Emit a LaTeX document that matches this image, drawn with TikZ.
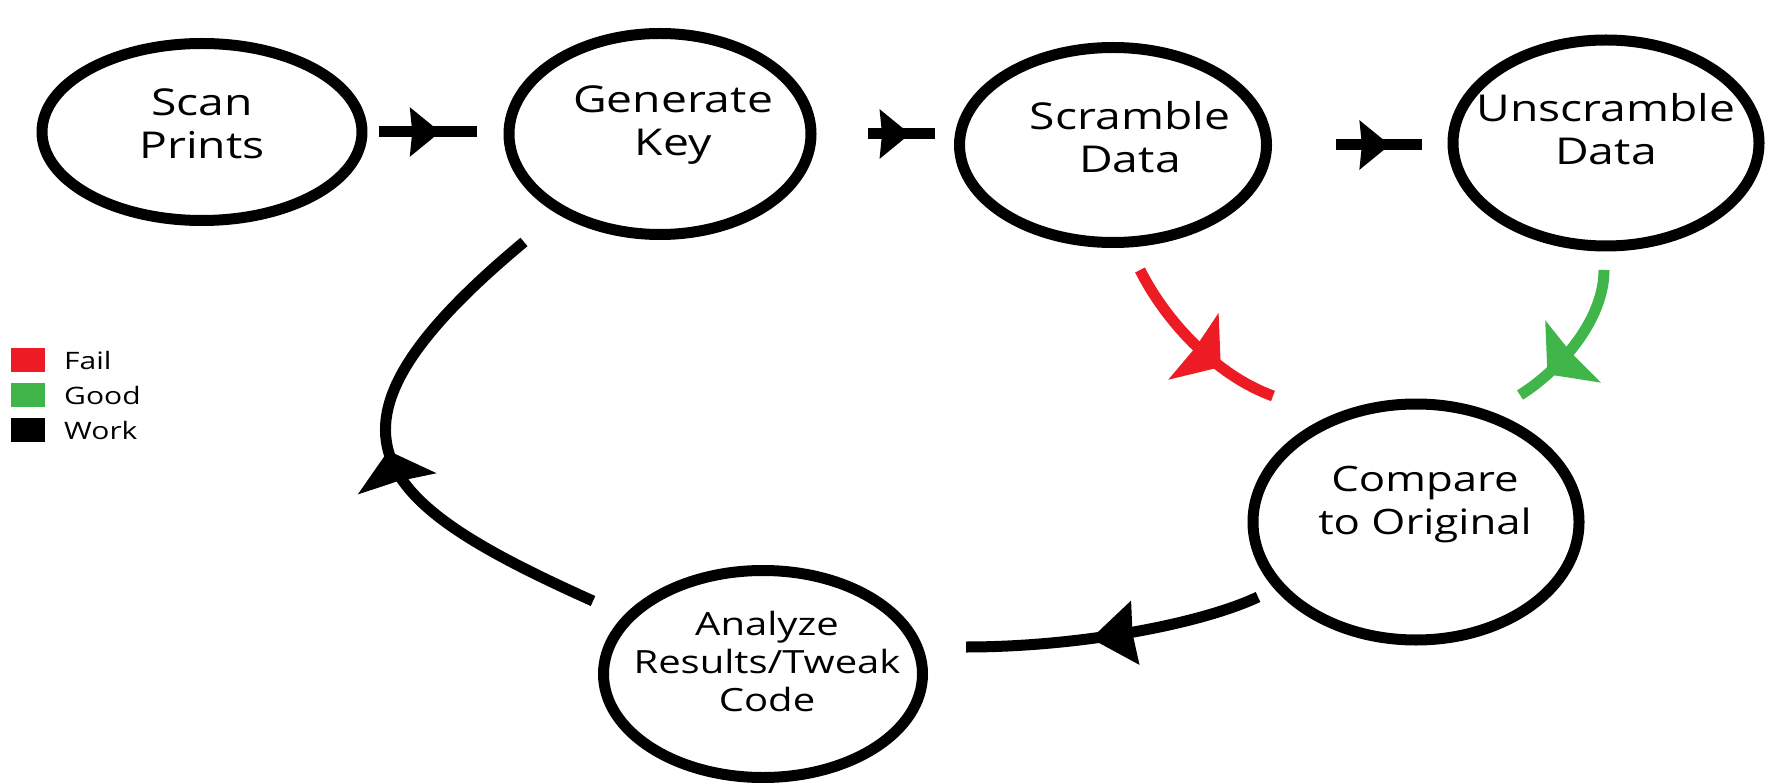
\documentclass[tikz,border=0pt]{standalone}
\usepackage{fontspec}
\setmainfont{Open Sans}[FakeStretch=1.25]
\usetikzlibrary{shapes.geometric,arrows.meta,decorations.markings,calc}

\definecolor{failred}{HTML}{ED1C24}
\definecolor{goodgreen}{HTML}{3FB54A}

\tikzset{
  stepnode/.style 2 args={ellipse, draw, line width=11pt, minimum width=#1, minimum height=#2, inner sep=0pt},
  steptext/.style={align=center, inner sep=0pt, font=\fontsize{37}{43}\selectfont},
  flow/.style n args={4}{line width=11pt, draw=#1, postaction={decorate},
    decoration={markings, mark=at position #2 with {\arrow[#1]{Stealth[length=#3, width=#4, inset=2pt]}}}},
  legendbox/.style={minimum width=34pt, minimum height=24pt, inner sep=0pt},
  legendtext/.style={anchor=west, inner sep=0pt, font=\fontsize{24}{28}\selectfont},
}

\begin{document}
\begin{tikzpicture}[x=1pt, y=1pt, line join=round]
\useasboundingbox (0,0) rectangle (1787,-783);

% steps
\node[stepnode={320pt}{177pt}] (scan) at (202,-132) {};
\node[stepnode={302pt}{201pt}] (genkey) at (660,-134) {};
\node[stepnode={307pt}{195pt}] (scramble) at (1113,-145) {};
\node[stepnode={306pt}{206pt}] (unscramble) at (1606,-143) {};
\node[stepnode={326pt}{236pt}] (compare) at (1416,-522) {};
\node[stepnode={319pt}{207pt}] (analyze) at (763,-674) {};

\node[steptext] (scan-t) at ($(scan)+(0,8)$) {Scan\\Prints};
\node[steptext] (genkey-t) at ($(genkey)+(13,9)$) {Generate\\Key};
\node[steptext] (scramble-t) at ($(scramble)+(17,8)$) {Scramble\\Data};
\node[steptext] (unscramble-t) at ($(unscramble)+(0,14)$) {Unscramble\\Data};
\node[steptext, font=\fontsize{35}{43}\selectfont] (compare-t) at ($(compare)+(9,17)$) {Compare\\to Original};
\node[steptext, font=\fontsize{32}{38}\selectfont] (analyze-t) at ($(analyze)+(4,13)$) {Analyze\\Results/Tweak\\Code};

% work flow along the top
\draw[flow={black}{0.63}{30pt}{48pt}] ([xshift=11pt]scan.east) -- ([xshift=-27pt]scan.east -| genkey.west);
\draw[flow={black}{0.63}{30pt}{48pt}] ([xshift=51pt]genkey.east) -- ([xshift=-19pt]genkey.east -| scramble.west);
\draw[flow={black}{0.63}{30pt}{48pt}] ([xshift=64pt]scramble.east) -- ([xshift=-26pt]scramble.east -| unscramble.west);

\path
(1140,-270) coordinate (fail-a)
(1273,-396) coordinate (fail-b)
(1604,-270) coordinate (good-a)
(1520,-395) coordinate (good-b)
(1258,-597) coordinate (back-a)
(966,-647) coordinate (back-b)
(593,-601) coordinate (loop-a)
(524,-242) coordinate (loop-b)
;
\draw[flow={failred}{0.68}{34pt}{82pt}] (fail-a) .. controls +(25,-50) and +(-58,21) .. (fail-b);
\draw[flow={goodgreen}{0.78}{34pt}{82pt}] (good-a) .. controls +(0,-50) and +(40,25) .. (good-b);
\draw[flow={black}{0.58}{44pt}{62pt}] (back-a) .. controls +(-60,-28) and +(110,0) .. (back-b);
\draw[flow={black}{0.5}{34pt}{80pt}] (loop-a) .. controls +(-218,98) and +(-231,-192) .. (loop-b);

% legend
\foreach \c/\t [count=\i] in {failred/Fail, goodgreen/Good, black/Work}
{
\node[legendbox, fill=\c] (key-\i) at (28,{-360-35*(\i-1)}) {};
\node[legendtext] (key-\i-t) at ($(key-\i)+(36,0)$) {\t};
}
\end{tikzpicture}
\end{document}
